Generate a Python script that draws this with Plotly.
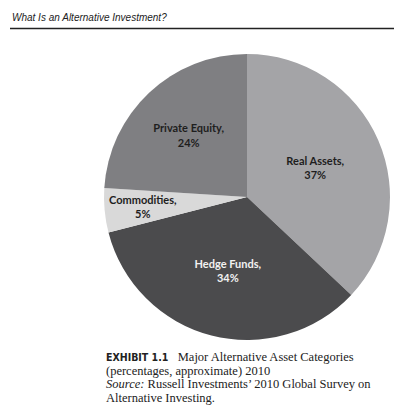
import math
import plotly.graph_objects as go

categories = ["Real Assets", "Hedge Funds", "Commodities", "Private Equity"]
values = [37, 34, 5, 24]
slice_colors = ["#a4a4a7", "#4b4b4d", "#d9d9d9", "#7f7f82"]
label_colors = ["#1e1e1e", "#f2f2f2", "#1e1e1e", "#1e1e1e"]

header = "What Is an Alternative Investment?"
caption_lines = [
    "<span style='font-family:\"DejaVu Sans Condensed\",\"Liberation Sans Narrow\",sans-serif;font-size:10.5px'><b>EXHIBIT 1.1</b></span>   Major Alternative Asset Categories",
    "(percentages, approximate) 2010",
    "<i>Source:</i> Russell Investments\u2019 2010 Global Survey on",
    "Alternative Investing.",
]

# page body has an 8px margin: lay the figure out in page pixels and convert
OFF = 8
W, H = 402 - OFF, 414 - OFF


def px(x):
    return (x - OFF) / W


def py(y):
    return 1 - (y - OFF) / H


# pie geometry in page pixels
CX, CY, R = 247, 197, 143
small_slice_r = 0.73  # thin slice label sits further out, like the reference

total = sum(values)
texts = []
small_labels = []
cum = 0
for cat, v in zip(categories, values):
    pct = round(100 * v / total)
    txt = f"<b>{cat},<br>{pct}%</b>"
    if v / total < 0.1:
        mid = (cum + v / 2) / total * 2 * math.pi
        small_labels.append((txt, CX + small_slice_r * R * math.sin(mid), CY - small_slice_r * R * math.cos(mid)))
        texts.append("")
    else:
        texts.append(txt)
    cum += v

label_font = "Lato, 'Open Sans', sans-serif"

fig = go.Figure(go.Pie(
    labels=categories,
    values=values,
    sort=False,
    direction="clockwise",
    rotation=0,
    marker=dict(colors=slice_colors, line=dict(width=0)),
    text=texts,
    texttemplate="%{text}",
    textposition="inside",
    insidetextorientation="horizontal",
    insidetextfont=dict(family=label_font, size=11, color=label_colors),
    domain=dict(x=[px(CX - R), px(CX + R)], y=[py(CY + R), py(CY - R)]),
    showlegend=False,
    hoverinfo="label+percent",
))

for txt, x, y in small_labels:
    fig.add_annotation(
        text=txt, x=px(x), y=py(y), xref="paper", yref="paper",
        xanchor="center", yanchor="middle", showarrow=False,
        font=dict(family=label_font, size=11, color="#1e1e1e"),
    )

fig.add_annotation(
    text="<i>" + header + "</i>", x=px(10), y=py(17), xref="paper", yref="paper",
    xanchor="left", yanchor="middle", showarrow=False,
    font=dict(family="'Liberation Sans Narrow', 'Arial Narrow', 'Liberation Sans', sans-serif", size=10, color="#222"),
)
fig.add_shape(type="line", xref="paper", yref="paper", x0=px(10), x1=px(400),
              y0=py(28.5), y1=py(28.5), line=dict(color="#222", width=1.3))

for i, line in enumerate(caption_lines):
    fig.add_annotation(
        text=line, x=px(104), y=py(357 + i * 13.7), xref="paper", yref="paper",
        xanchor="left", yanchor="middle", showarrow=False,
        font=dict(family="'Liberation Serif', 'Times New Roman', serif", size=12.5, color="#222"),
    )

fig.update_layout(
    width=W, height=H,
    margin=dict(l=0, r=0, t=0, b=0),
    paper_bgcolor="white", plot_bgcolor="white",
)

fig.write_html("out.html")
